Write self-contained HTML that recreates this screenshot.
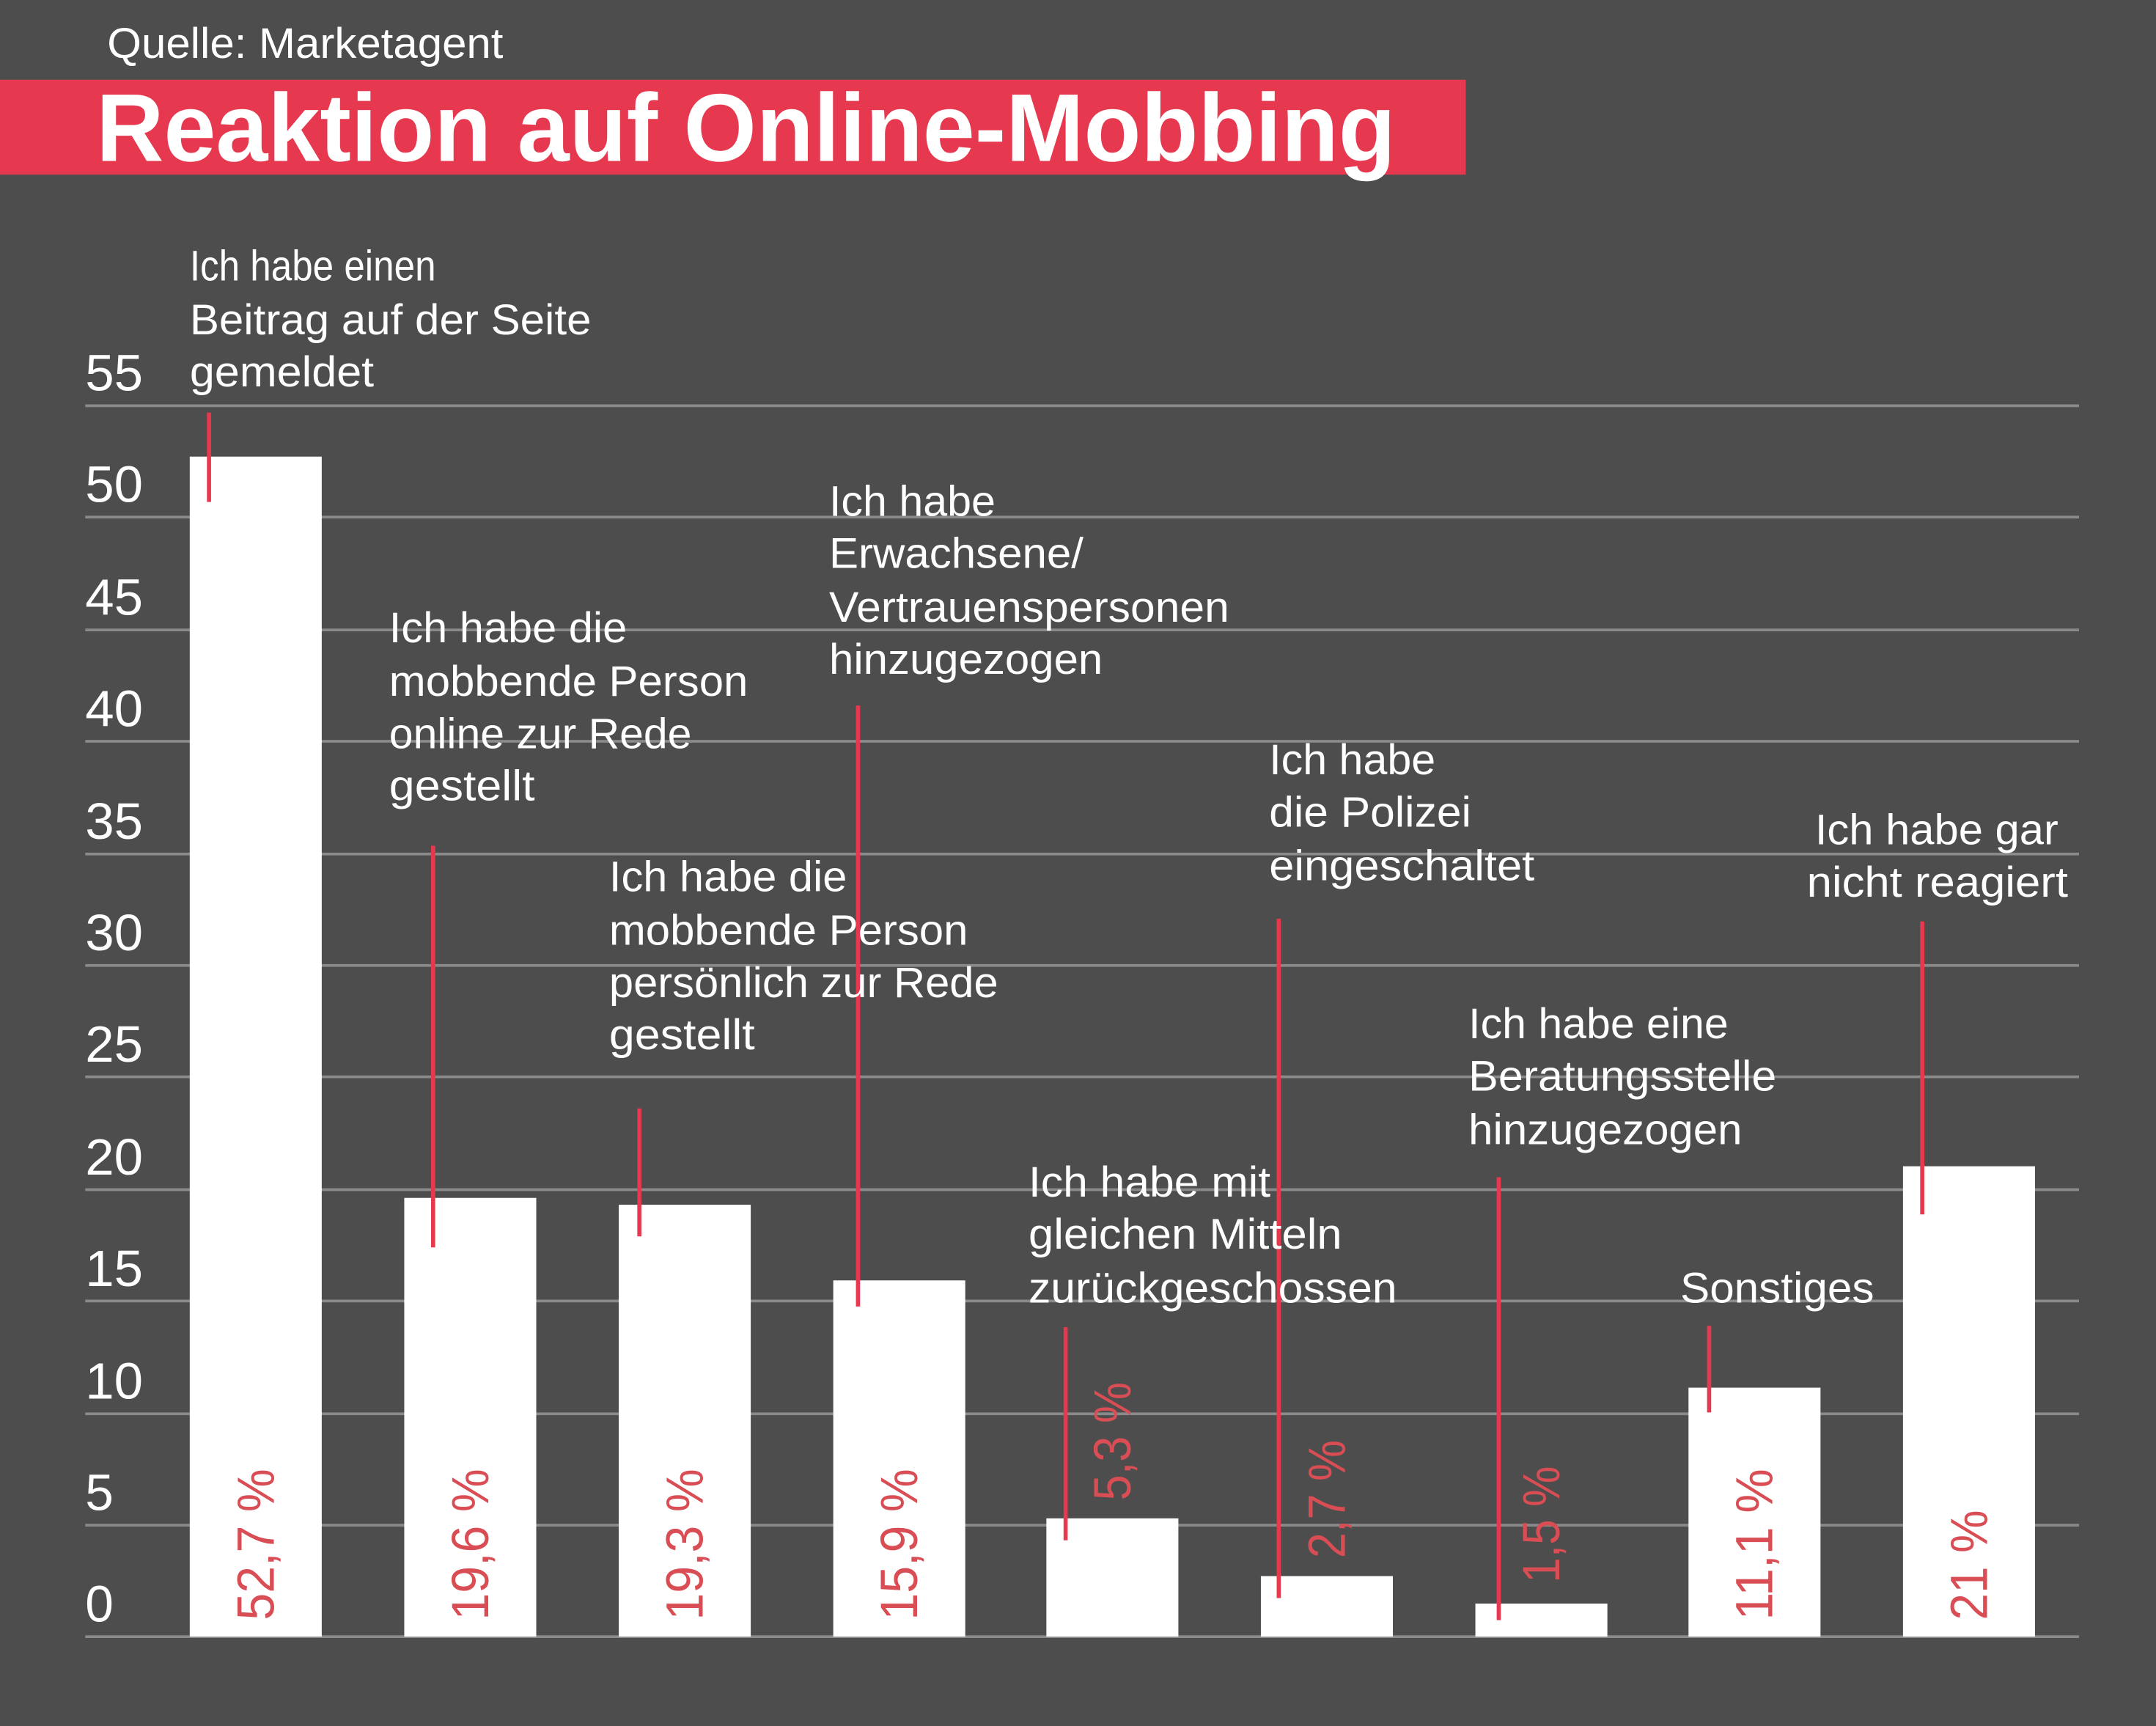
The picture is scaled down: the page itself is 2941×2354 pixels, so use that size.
<!DOCTYPE html>
<html><head><meta charset="utf-8"><style>
html,body{margin:0;padding:0;background:#4d4d4d;}
svg{display:block}
text{font-family:"Liberation Sans",sans-serif;}
</style></head><body>
<svg width="2941" height="2354" viewBox="0 0 1568 1255" preserveAspectRatio="none" xmlns="http://www.w3.org/2000/svg">
<rect width="1568" height="1255" fill="#4d4d4d"/>
<text x="78" y="42" font-size="31" fill="#fff" textLength="288" lengthAdjust="spacingAndGlyphs">Quelle: Marketagent</text>
<rect x="0" y="58" width="1066" height="69" fill="#e6394f"/>
<text x="70" y="117" font-size="70" font-weight="bold" fill="#fff" textLength="945" lengthAdjust="spacingAndGlyphs">Reaktion auf Online-Mobbing</text>
<g stroke="#8a8a8a" stroke-width="2">
<line x1="62" x2="1512" y1="295" y2="295"/><line x1="62" x2="1512" y1="376" y2="376"/>
<line x1="62" x2="1512" y1="458" y2="458"/><line x1="62" x2="1512" y1="539" y2="539"/>
<line x1="62" x2="1512" y1="621" y2="621"/><line x1="62" x2="1512" y1="702" y2="702"/>
<line x1="62" x2="1512" y1="783" y2="783"/><line x1="62" x2="1512" y1="865" y2="865"/>
<line x1="62" x2="1512" y1="946" y2="946"/><line x1="62" x2="1512" y1="1028" y2="1028"/>
<line x1="62" x2="1512" y1="1109" y2="1109"/><line x1="62" x2="1512" y1="1190" y2="1190"/>
</g>
<g font-size="37" fill="#fff">
<text x="62" y="284" textLength="42" lengthAdjust="spacingAndGlyphs">55</text><text x="62" y="365" textLength="42" lengthAdjust="spacingAndGlyphs">50</text><text x="62" y="447" textLength="42" lengthAdjust="spacingAndGlyphs">45</text>
<text x="62" y="528" textLength="42" lengthAdjust="spacingAndGlyphs">40</text><text x="62" y="610" textLength="42" lengthAdjust="spacingAndGlyphs">35</text><text x="62" y="691" textLength="42" lengthAdjust="spacingAndGlyphs">30</text>
<text x="62" y="772" textLength="42" lengthAdjust="spacingAndGlyphs">25</text><text x="62" y="854" textLength="42" lengthAdjust="spacingAndGlyphs">20</text><text x="62" y="935" textLength="42" lengthAdjust="spacingAndGlyphs">15</text>
<text x="62" y="1017" textLength="42" lengthAdjust="spacingAndGlyphs">10</text><text x="62" y="1098">5</text><text x="62" y="1179">0</text>
</g>
<g fill="#fff">
<rect x="138" y="332" width="96" height="858"/>
<rect x="294" y="871" width="96" height="319"/>
<rect x="450" y="876" width="96" height="314"/>
<rect x="606" y="931" width="96" height="259"/>
<rect x="761" y="1104" width="96" height="86"/>
<rect x="917" y="1146" width="96" height="44"/>
<rect x="1073" y="1166" width="96" height="24"/>
<rect x="1228" y="1009" width="96" height="181"/>
<rect x="1384" y="848" width="96" height="342"/>
</g>
<g font-size="38" fill="#d94d55">
<text transform="translate(199,1178) rotate(-90)" textLength="110" lengthAdjust="spacingAndGlyphs">52,7 %</text>
<text transform="translate(355,1178) rotate(-90)" textLength="110" lengthAdjust="spacingAndGlyphs">19,6 %</text>
<text transform="translate(511,1178) rotate(-90)" textLength="110" lengthAdjust="spacingAndGlyphs">19,3 %</text>
<text transform="translate(667,1178) rotate(-90)" textLength="110" lengthAdjust="spacingAndGlyphs">15,9 %</text>
<text transform="translate(822,1091) rotate(-90)" textLength="86" lengthAdjust="spacingAndGlyphs">5,3 %</text>
<text transform="translate(978,1133) rotate(-90)" textLength="86" lengthAdjust="spacingAndGlyphs">2,7 %</text>
<text transform="translate(1134,1151) rotate(-90)" textLength="85" lengthAdjust="spacingAndGlyphs">1,5 %</text>
<text transform="translate(1289,1178) rotate(-90)" textLength="110" lengthAdjust="spacingAndGlyphs">11,1 %</text>
<text transform="translate(1445,1178) rotate(-90)" textLength="80" lengthAdjust="spacingAndGlyphs">21 %</text>
</g>
<g stroke="#e6394f" stroke-width="3">
<line x1="152" x2="152" y1="300" y2="365"/>
<line x1="315" x2="315" y1="615" y2="907"/>
<line x1="465" x2="465" y1="806" y2="899"/>
<line x1="624" x2="624" y1="513" y2="950"/>
<line x1="775" x2="775" y1="965" y2="1120"/>
<line x1="930" x2="930" y1="668" y2="1162"/>
<line x1="1090" x2="1090" y1="856" y2="1178"/>
<line x1="1243" x2="1243" y1="964" y2="1027"/>
<line x1="1398" x2="1398" y1="670" y2="883"/>
</g>
<g font-size="31" fill="#fff" lengthAdjust="spacingAndGlyphs">
<text x="138" y="204" textLength="179" lengthAdjust="spacingAndGlyphs">Ich habe einen</text>
<text x="138" y="243" textLength="292" lengthAdjust="spacingAndGlyphs">Beitrag auf der Seite</text>
<text x="138" y="281" textLength="134" lengthAdjust="spacingAndGlyphs">gemeldet</text>
<text x="283" y="467" textLength="173" lengthAdjust="spacingAndGlyphs">Ich habe die</text>
<text x="283" y="506" textLength="261" lengthAdjust="spacingAndGlyphs">mobbende Person</text>
<text x="283" y="544" textLength="220" lengthAdjust="spacingAndGlyphs">online zur Rede</text>
<text x="283" y="582" textLength="106" lengthAdjust="spacingAndGlyphs">gestellt</text>
<text x="443" y="648" textLength="173" lengthAdjust="spacingAndGlyphs">Ich habe die</text>
<text x="443" y="687" textLength="261" lengthAdjust="spacingAndGlyphs">mobbende Person</text>
<text x="443" y="725" textLength="283" lengthAdjust="spacingAndGlyphs">persönlich zur Rede</text>
<text x="443" y="763" textLength="106" lengthAdjust="spacingAndGlyphs">gestellt</text>
<text x="603" y="375" textLength="121" lengthAdjust="spacingAndGlyphs">Ich habe</text>
<text x="603" y="413" textLength="185" lengthAdjust="spacingAndGlyphs">Erwachsene/</text>
<text x="603" y="452" textLength="291" lengthAdjust="spacingAndGlyphs">Vertrauenspersonen</text>
<text x="603" y="490" textLength="199" lengthAdjust="spacingAndGlyphs">hinzugezogen</text>
<text x="748" y="870" textLength="176" lengthAdjust="spacingAndGlyphs">Ich habe mit</text>
<text x="748" y="908" textLength="228" lengthAdjust="spacingAndGlyphs">gleichen Mitteln</text>
<text x="748" y="947" textLength="268" lengthAdjust="spacingAndGlyphs">zurückgeschossen</text>
<text x="923" y="563" textLength="121" lengthAdjust="spacingAndGlyphs">Ich habe</text>
<text x="923" y="601" textLength="147" lengthAdjust="spacingAndGlyphs">die Polizei</text>
<text x="923" y="640" textLength="193" lengthAdjust="spacingAndGlyphs">eingeschaltet</text>
<text x="1068" y="755" textLength="189" lengthAdjust="spacingAndGlyphs">Ich habe eine</text>
<text x="1068" y="793" textLength="224" lengthAdjust="spacingAndGlyphs">Beratungsstelle</text>
<text x="1068" y="832" textLength="199" lengthAdjust="spacingAndGlyphs">hinzugezogen</text>
<text x="1222" y="947" textLength="141" lengthAdjust="spacingAndGlyphs">Sonstiges</text>
<text x="1320" y="614" textLength="177" lengthAdjust="spacingAndGlyphs">Ich habe gar</text>
<text x="1314" y="652" textLength="190" lengthAdjust="spacingAndGlyphs">nicht reagiert</text>
</g>
</svg>
</body></html>
